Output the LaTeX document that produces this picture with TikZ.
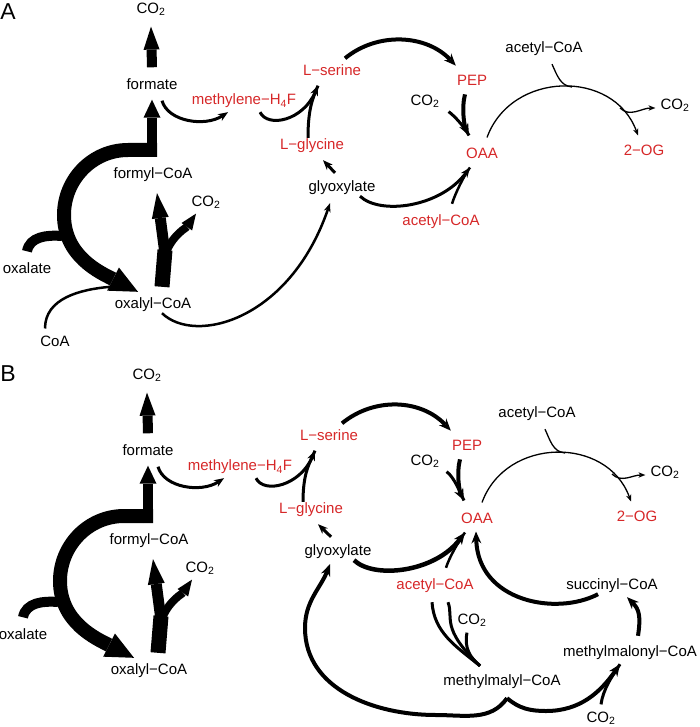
\documentclass[tikz,border=0pt]{standalone}
\usepackage{fontspec}
\setmainfont{Liberation Sans}
\usepackage{tikz}
\usetikzlibrary{arrows.meta,calc,positioning}
\definecolor{pathred}{RGB}{214,39,40}
\tikzset{
  lbl/.style={font=\fontsize{15}{18}\selectfont, inner sep=1pt},
  met/.style={lbl, text=pathred},
  panel/.style={font=\fontsize{23}{26}\selectfont, inner sep=0pt},
  feed/.style={line width=3pt},
  thinarr/.style={line width=1.3pt,-{Stealth[length=7pt,width=5.5pt,line width=0pt]}},
  arr/.style={line width=3pt,-{Stealth[length=10pt,width=8pt,line width=0pt]}},
  arrw/.style={line width=4pt,-{Stealth[length=12pt,width=10pt,line width=0pt]}},
}

\begin{document}
\begin{tikzpicture}[x=1pt,y=1pt]
\useasboundingbox (0,0) rectangle (700,-727);

% ---------- panel A ----------
\node[panel] (panA) at (8,-12) {A};
\node[lbl] (co2topA) at (151,-9) {CO\textsubscript{2}};
\node[lbl] (formA) at (152,-84) {formate};
\node[lbl] (formylA) at (153,-175) {formyl−CoA};
\node[lbl] (co2fA) at (206,-202) {CO\textsubscript{2}};
\node[lbl] (oxalateA) at (27,-268) {oxalate};
\node[lbl] (oxalylA) at (153,-305) {oxalyl−CoA};
\node[lbl] (coaA) at (55,-341) {CoA};
\node[met] (methA) at (244,-101) {methylene−H\textsubscript{4}F};
\node[met] (serA) at (332,-70) {L−serine};
\node[met] (glyA) at (312,-146) {L−glycine};
\node[lbl] (glyoxA) at (342,-188) {glyoxylate};
\node[met] (pepA) at (472,-80) {PEP};
\node[lbl] (co2pA) at (425,-101) {CO\textsubscript{2}};
\node[met] (oaaA) at (482,-153) {OAA};
\node[lbl] (acetA) at (544,-49) {acetyl−CoA};
\node[lbl] (co2rA) at (675,-105) {CO\textsubscript{2}};
\node[met] (ogA) at (644,-150) {2−OG};
\node[met] (acetrA) at (441,-222) {acetyl−CoA};

\coordinate (jA) at (152,-157);
\coordinate (forkA) at (165,-250);
\coordinate (mergeA) at (62,-236);
\coordinate (acjA) at (572,-87);
\coordinate (co2jA) at (620,-108);

% fat arrows
\draw[line width=10pt,-{Triangle[length=23pt,width=16pt,line width=0pt]}] ([yshift=10pt]formA.north) -- ([yshift=-10pt]co2topA.south);
\draw[line width=10pt,-{Triangle[length=18pt,width=17pt,line width=0pt]}] (jA) -- ([yshift=-9pt]formA.south);
\draw[line width=14pt,-{Triangle[length=28pt,width=26pt,line width=0pt]}] ([shift={(5,7)}]jA) -- (128,-150) to[out=180,in=90] (64,-215) to[out=270,in=153] ([shift={(-15,5)}]oxalylA.north);
\draw[line width=10pt] ([yshift=10pt]oxalateA.north) to[out=80,in=175] (mergeA);
\draw[line width=2.5pt] ([shift={(-10,6)}]coaA.north) to[out=90,in=185] ([shift={(-43,10)}]oxalylA.north);
\draw[line width=15pt] ([shift={(9,10)}]oxalylA.north) -- (forkA);
\draw[line width=11pt,-{Triangle[length=25pt,width=17pt,line width=0pt]}] ([yshift=-4pt]forkA) -- ([shift={(4,-10)}]formylA.south);
\draw[line width=8pt,-{Triangle[length=16pt,width=13pt,line width=0pt]}] ([xshift=2pt]forkA) to[out=65,in=235] ([shift={(-10,-4)}]co2fA.south);

% serine cycle
\draw[arr] ([shift={(10,-10)}]formA.south) .. controls +(6,-21) and +(-23,-15) .. ([shift={(-16,-3)}]methA.south);
\draw[arr] ([shift={(16,-3)}]methA.south) .. controls +(8,-16) and +(-15,-35) .. ([shift={(-14,-9)}]serA.south);
\draw[feed] ([xshift=-4pt]glyA.north) .. controls +(0,30) and +(-5,-12) .. ([shift={(-14,-9)}]serA.south);
\draw[arr] ([shift={(-7,7)}]glyoxA.north) -- ([shift={(11,-6)}]glyA.south);
\draw[arrw] ([shift={(13,5)}]serA.north) .. controls +(33,27) and +(-29,31) .. ([yshift=8pt]pepA.north west);
\draw[arrw] ([shift={(-7,-8)}]pepA.south) .. controls +(-4,-15) and +(-4,8) .. ([shift={(-13,11)}]oaaA.north);
\draw[feed] ([shift={(8,-3)}]co2pA.south east) .. controls +(8,-6) and +(-3,6) .. ([shift={(-13,11)}]oaaA.north);
\draw[arr] ([xshift=18pt]glyoxA.south) .. controls +(20,-19) and +(-30,-40) .. ([shift={(-12,-8)}]oaaA.south);
\draw[line width=2.5pt] ([shift={(11,10)}]acetrA.north) .. controls +(3,10) and +(-6,-8) .. ([shift={(-12,-8)}]oaaA.south);
\draw[line width=2.5pt,-{Stealth[length=9pt,width=7pt,line width=0pt]}] ([xshift=9pt]oxalylA.south) .. controls +(33,-32) and +(-40,-117) .. ([shift={(-12,-7)}]glyoxA.south);

% OAA to 2-OG
\draw[thinarr] ([shift={(5,9)}]oaaA.north) to[out=70,in=110,looseness=1.2] ([shift={(-6,8)}]ogA.north);
\draw[line width=1.3pt] ([shift={(8,-7)}]acetA.south) to[out=-65,in=175] (acjA);
\draw[thinarr] (co2jA) to[out=-45,in=180] ([shift={(-4,-3)}]co2rA.west);

% ---------- panel B ----------
\begin{scope}[shift={(-4,-366)}]
\node[panel] (panB) at (12,-8) {B};
\node[lbl] (co2topB) at (151,-9) {CO\textsubscript{2}};
\node[lbl] (formB) at (152,-84) {formate};
\node[lbl] (formylB) at (153,-175) {formyl−CoA};
\node[lbl] (co2fB) at (204,-202) {CO\textsubscript{2}};
\node[lbl] (oxalateB) at (27,-268) {oxalate};
\node[lbl] (oxalylB) at (153,-305) {oxalyl−CoA};
\node[met] (methB) at (244,-101) {methylene−H\textsubscript{4}F};
\node[met] (serB) at (333,-69) {L−serine};
\node[met] (glyB) at (315,-144) {L−glycine};
\node[lbl] (glyoxB) at (342,-186) {glyoxylate};
\node[met] (pepB) at (471,-79) {PEP};
\node[lbl] (co2pB) at (429,-95) {CO\textsubscript{2}};
\node[met] (oaaB) at (481,-152) {OAA};
\node[lbl] (acetB) at (541,-48) {acetyl−CoA};
\node[lbl] (co2rB) at (669,-106) {CO\textsubscript{2}};
\node[met] (ogB) at (641,-150) {2−OG};
\node[met] (acetrB) at (439,-220) {acetyl−CoA};
\node[lbl] (succB) at (616,-220) {succinyl−CoA};
\node[lbl] (co2aB) at (476,-254) {CO\textsubscript{2}};
\node[lbl] (mmcB) at (634,-287) {methylmalonyl−CoA};
\node[lbl] (mmlB) at (506,-316) {methylmalyl−CoA};
\node[lbl] (co2bB) at (605,-352) {CO\textsubscript{2}};

\coordinate (jB) at (152,-157);
\coordinate (forkB) at (165,-250);
\coordinate (mergeB) at (62,-236);
\coordinate (acjB) at (569,-87);
\coordinate (co2jB) at (616,-108);
\coordinate (mjB) at ([shift={(-22,8)}]mmlB.north);
\coordinate (cuspB) at ([shift={(5,-8)}]mmlB.south);

% fat arrows
\draw[line width=10pt,-{Triangle[length=23pt,width=16pt,line width=0pt]}] ([yshift=10pt]formB.north) -- ([yshift=-10pt]co2topB.south);
\draw[line width=10pt,-{Triangle[length=18pt,width=17pt,line width=0pt]}] (jB) -- ([yshift=-9pt]formB.south);
\draw[line width=14pt,-{Triangle[length=28pt,width=26pt,line width=0pt]}] ([shift={(5,7)}]jB) -- (128,-150) to[out=180,in=90] (64,-215) to[out=270,in=153] ([shift={(-15,5)}]oxalylB.north);
\draw[line width=10pt] ([yshift=10pt]oxalateB.north) to[out=80,in=175] (mergeB);
\draw[line width=15pt] ([shift={(9,10)}]oxalylB.north) -- (forkB);
\draw[line width=11pt,-{Triangle[length=25pt,width=17pt,line width=0pt]}] ([yshift=-4pt]forkB) -- ([shift={(4,-10)}]formylB.south);
\draw[line width=8pt,-{Triangle[length=16pt,width=13pt,line width=0pt]}] ([xshift=2pt]forkB) to[out=65,in=235] ([shift={(-8,-4)}]co2fB.south);

% serine cycle
\draw[arr] ([shift={(10,-10)}]formB.south) .. controls +(6,-21) and +(-23,-15) .. ([shift={(-16,-3)}]methB.south);
\draw[arr] ([shift={(16,-3)}]methB.south) .. controls +(8,-16) and +(-15,-35) .. ([shift={(-14,-9)}]serB.south);
\draw[feed] ([xshift=-8pt]glyB.north) .. controls +(0,30) and +(-5,-12) .. ([shift={(-14,-9)}]serB.south);
\draw[arr] ([shift={(-7,7)}]glyoxB.north) -- ([shift={(7,-6)}]glyB.south);
\draw[arrw] ([shift={(13,5)}]serB.north) .. controls +(33,27) and +(-29,31) .. ([yshift=8pt]pepB.north west);
\draw[arrw] ([shift={(-7,-8)}]pepB.south) .. controls +(-4,-15) and +(-4,8) .. ([shift={(-13,11)}]oaaB.north);
\draw[feed] ([shift={(6,-3)}]co2pB.south east) .. controls +(8,-6) and +(-3,6) .. ([shift={(-13,11)}]oaaB.north);
\draw[line width=4.5pt,-{Stealth[length=12pt,width=10pt,line width=0pt]}] ([xshift=16pt]glyoxB.south) .. controls +(20,-19) and +(-30,-40) .. ([shift={(-12,-8)}]oaaB.south);
\draw[line width=2.5pt] ([shift={(11,10)}]acetrB.north) .. controls +(3,10) and +(-6,-8) .. ([shift={(-12,-8)}]oaaB.south);

% OAA to 2-OG
\draw[thinarr] ([shift={(5,9)}]oaaB.north) to[out=70,in=110,looseness=1.2] ([shift={(-6,8)}]ogB.north);
\draw[line width=1.3pt] ([shift={(8,-7)}]acetB.south) to[out=-65,in=175] (acjB);
\draw[thinarr] (co2jB) to[out=-45,in=180] ([shift={(-4,-3)}]co2rB.west);

% methylmalyl-CoA branch
\draw[arrw] ([xshift=-14pt]succB.south) .. controls +(-42,-22) and +(2,-70) .. ([shift={(-1,-7)}]oaaB.south);
\draw[arrw] ([shift={(8,9)}]mmcB.north) .. controls +(3,20) and +(12,-12) .. ([shift={(15,-3)}]succB.south);
\draw[feed] ([shift={(-3,-8)}]acetrB.south) .. controls +(2,-30) and +(-25,20) .. (mjB);
\draw[feed] ([shift={(13,-8)}]acetrB.south) .. controls +(6,-16) and +(-40,38) .. (mjB);
\draw[feed] ([shift={(-5,-5)}]co2aB.south) .. controls +(-3,-15) and +(-10,8) .. (mjB);
\draw[arrw] (cuspB) to[out=235,in=0] (440,-349) to[out=180,in=-90] (309,-262) to[out=90,in=248] ([shift={(-8,-4)}]glyoxB.south);
\draw[arrw] (cuspB) to[out=-40,in=180] (550,-345) to[out=0,in=235] ([shift={(-10,-3)}]mmcB.south);
\draw[feed] ([yshift=6pt]co2bB.north) .. controls +(2,15) and +(-8,-12) .. ([shift={(-10,-3)}]mmcB.south);
\end{scope}
\end{tikzpicture}
\end{document}
